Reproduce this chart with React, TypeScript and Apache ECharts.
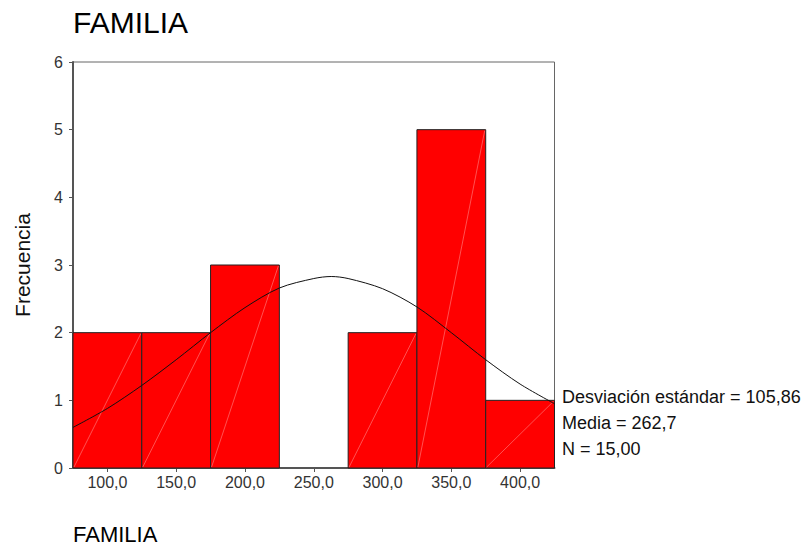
import React, { useEffect, useRef } from "react";
import * as echarts from "echarts";

const binStarts = [75, 125, 175, 225, 275, 325, 375];
const binWidth = 50;
const counts = [2, 2, 3, 0, 2, 5, 1];
const curveX = [75, 100, 125, 150, 175, 200, 225, 250, 262.7, 275, 300, 325, 350, 375, 400, 425];
const curveY = [0.6, 0.88, 1.22, 1.6, 2.0, 2.37, 2.66, 2.8, 2.83, 2.8, 2.65, 2.38, 2.0, 1.6, 1.24, 0.95];
const xTicks = [100, 150, 200, 250, 300, 350, 400];
const statsLines = ["Desviación estándar = 105,86", "Media = 262,7", "N = 15,00"];

const FONT = "'Liberation Sans', Arial, sans-serif";

export default function App() {
  const ref = useRef<HTMLDivElement>(null);
  useEffect(() => {
    if (!ref.current) return;
    const chart = echarts.init(ref.current, null, { renderer: "svg" });
    const barData = binStarts.map((s, i) => [s, s + binWidth, counts[i]]);
    const curveData = curveX.map((x, i) => [x, curveY[i]]);
    chart.setOption({
      animation: false,
      backgroundColor: "#fff",
      textStyle: { fontFamily: FONT },
      grid: {
        left: 73,
        top: 62,
        right: 252.5,
        bottom: 78,
        show: true,
        borderColor: "#666",
        borderWidth: 1,
        backgroundColor: "transparent",
      },
      xAxis: {
        type: "value",
        min: 75,
        max: 425,
        splitLine: { show: false },
        axisLine: { show: true, lineStyle: { color: "#555", width: 2 } },
        axisTick: { show: true, length: 4, lineStyle: { color: "#555" }, customValues: xTicks },
        axisLabel: {
          color: "#333",
          fontSize: 16,
          fontFamily: FONT,
          margin: 6,
          customValues: xTicks,
          formatter: (v: number) => v.toFixed(1).replace(".", ","),
        },
      },
      yAxis: {
        type: "value",
        min: 0,
        max: 6,
        interval: 1,
        name: "Frecuencia",
        nameLocation: "middle",
        nameGap: 40,
        nameTextStyle: { color: "#111", fontSize: 21, fontFamily: FONT },
        splitLine: { show: false },
        axisLine: { show: true, lineStyle: { color: "#555", width: 2 } },
        axisTick: { show: true, length: 4, lineStyle: { color: "#555" } },
        axisLabel: { color: "#333", fontSize: 16, fontFamily: FONT, margin: 10 },
      },
      series: [
        {
          type: "custom",
          data: barData,
          encode: { x: [0, 1], y: 2 },
          renderItem: (params: any, api: any) => {
            const lo = api.value(0);
            const hi = api.value(1);
            const c = api.value(2);
            if (c <= 0) return null;
            const p0 = api.coord([lo, c]);
            const p1 = api.coord([hi, 0]);
            return {
              type: "group",
              children: [
                {
                  type: "rect",
                  shape: { x: p0[0], y: p0[1], width: p1[0] - p0[0], height: p1[1] - p0[1] },
                  style: { fill: "#ff0000", stroke: "#222", lineWidth: 1 },
                },
                {
                  type: "line",
                  shape: { x1: p0[0] + 1, y1: p1[1] - 1, x2: p1[0] - 1, y2: p0[1] + 1 },
                  style: { stroke: "rgba(255,170,170,0.6)", lineWidth: 0.8 },
                },
              ],
            };
          },
          z: 2,
        },
        {
          type: "line",
          data: curveData,
          smooth: 0.3,
          symbol: "none",
          lineStyle: { color: "#111", width: 1 },
          z: 3,
        },
      ],
      graphic: [
        {
          type: "text",
          left: 73,
          top: 7,
          style: { text: "FAMILIA", font: `30px ${FONT}`, fill: "#000" },
        },
        {
          type: "text",
          left: 73,
          top: 523,
          style: { text: "FAMILIA", font: `22px ${FONT}`, fill: "#000" },
        },
        ...statsLines.map((t, i) => ({
          type: "text",
          left: 562,
          top: 388 + i * 26,
          style: { text: t, font: `18px ${FONT}`, fill: "#111" },
        })),
      ],
    });
    return () => chart.dispose();
  }, []);
  return <div ref={ref} style={{ position: "fixed", left: 0, top: 0, width: 807, height: 546 }} />;
}
